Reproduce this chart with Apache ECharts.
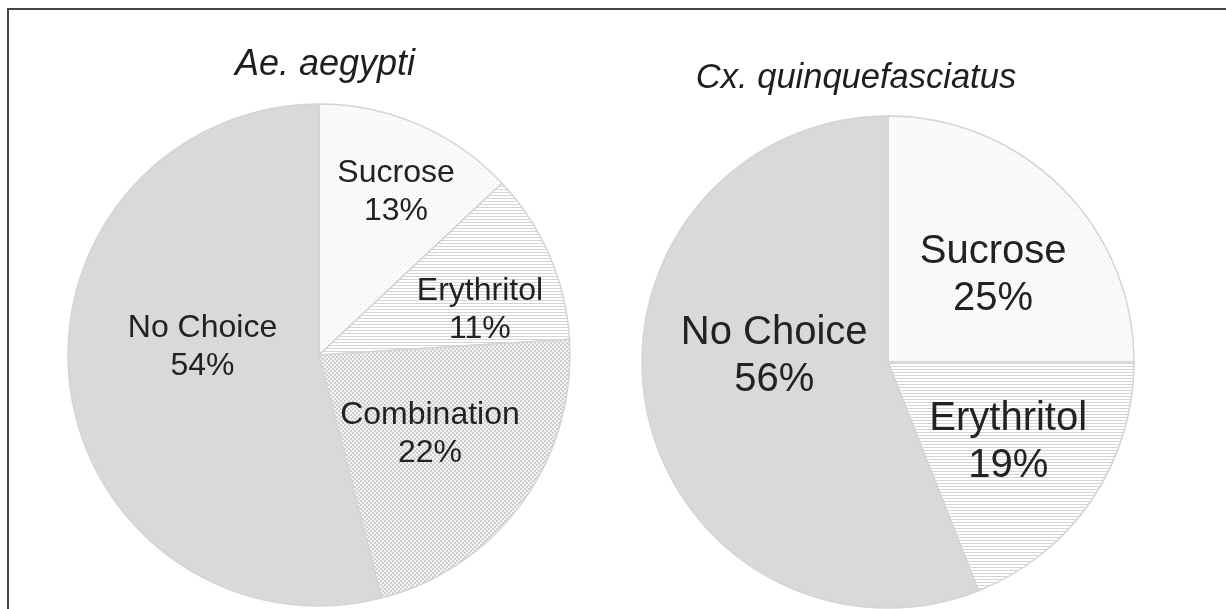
<!DOCTYPE html>
<html>
<head>
<meta charset="utf-8">
<script src="https://cdn.jsdelivr.net/npm/echarts@6/dist/echarts.min.js"></script>
<style>
html,body{margin:0;padding:0;background:#fff;}
#chart{width:1226px;height:609px;}
</style>
</head>
<body>
<div id="chart"></div>
<script>
// ---- data ----
const titles = ['Ae. aegypti', 'Cx. quinquefasciatus'];
const aeCategories = ['Sucrose', 'Erythritol', 'Combination', 'No Choice'];
const aeValues = [13, 11, 22, 54];
const cxCategories = ['Sucrose', 'Erythritol', 'No Choice'];
const cxValues = [25, 19, 56];

// ---- patterns ----
function makePattern(w, h, draw) {
  const c = document.createElement('canvas');
  c.width = w; c.height = h;
  const ctx = c.getContext('2d');
  draw(ctx);
  return { image: c, repeat: 'repeat' };
}
const dotPattern = makePattern(4, 4, ctx => {
  ctx.fillStyle = '#fcfcfc'; ctx.fillRect(0, 0, 4, 4);
  ctx.fillStyle = '#e8e8e8'; ctx.fillRect(0, 0, 1, 1); ctx.fillRect(2, 2, 1, 1);
});
const linePattern = makePattern(4, 3, ctx => {
  ctx.fillStyle = '#ffffff'; ctx.fillRect(0, 0, 4, 3);
  ctx.fillStyle = '#d4d4d4'; ctx.fillRect(0, 0, 4, 1);
});
const checkPattern = makePattern(4, 4, ctx => {
  ctx.fillStyle = '#f4f4f4'; ctx.fillRect(0, 0, 4, 4);
  ctx.fillStyle = '#cfcfcf'; ctx.fillRect(0, 0, 2, 2); ctx.fillRect(2, 2, 2, 2);
});
const solidGray = '#d9d9d9';

const fills = {
  'Sucrose': dotPattern,
  'Erythritol': linePattern,
  'Combination': checkPattern,
  'No Choice': solidGray
};

// label nudges (layout only)
const labelNudge = [
  [[26, -45], [43, 6], [7, 4], [11, -24]],
  [[16, 3], [16, 10], [10, -29]]
];

function buildData(cats, vals) {
  return cats.map((c, i) => ({
    name: c,
    value: vals[i],
    itemStyle: { color: fills[c] }
  }));
}

const font = 'Liberation Sans, Arial, sans-serif';

const chart = echarts.init(document.getElementById('chart'), null, { renderer: 'canvas' });
chart.setOption({
  animation: false,
  backgroundColor: '#ffffff',
  title: [
    {
      text: titles[0], left: 320, top: 42, textAlign: 'center',
      textStyle: { fontFamily: font, fontStyle: 'italic', fontWeight: 'normal', fontSize: 36, color: '#1e1e1e' }
    },
    {
      text: titles[1], left: 851, top: 56, textAlign: 'center',
      textStyle: { fontFamily: font, fontStyle: 'italic', fontWeight: 'normal', fontSize: 34.5, color: '#1e1e1e' }
    }
  ],
  graphic: [
    { type: 'line', shape: { x1: 8, y1: 9, x2: 1226, y2: 9 }, style: { stroke: '#454545', lineWidth: 2 } },
    { type: 'line', shape: { x1: 8, y1: 8, x2: 8, y2: 609 }, style: { stroke: '#454545', lineWidth: 2 } }
  ],
  series: [
    {
      type: 'pie',
      center: [319, 355],
      radius: 251,
      startAngle: 90,
      clockwise: true,
      silent: true,
      data: buildData(aeCategories, aeValues),
      itemStyle: { borderColor: '#d4d4d4', borderWidth: 1.5 },
      label: {
        show: true, position: 'inner', formatter: '{b}\n{c}%',
        fontFamily: font, fontSize: 32, lineHeight: 38, color: '#222', align: 'center'
      },
      labelLine: { show: false },
      labelLayout: function (p) {
        const n = labelNudge[0][p.dataIndex];
        return { dx: n[0], dy: n[1] };
      }
    },
    {
      type: 'pie',
      center: [888, 362],
      radius: 246,
      startAngle: 90,
      clockwise: true,
      silent: true,
      data: buildData(cxCategories, cxValues),
      itemStyle: { borderColor: '#d4d4d4', borderWidth: 1.5 },
      label: {
        show: true, position: 'inner', formatter: '{b}\n{c}%',
        fontFamily: font, fontSize: 40, lineHeight: 47, color: '#222', align: 'center'
      },
      labelLine: { show: false },
      labelLayout: function (p) {
        const n = labelNudge[1][p.dataIndex];
        return { dx: n[0], dy: n[1] };
      }
    }
  ]
});
</script>
</body>
</html>
